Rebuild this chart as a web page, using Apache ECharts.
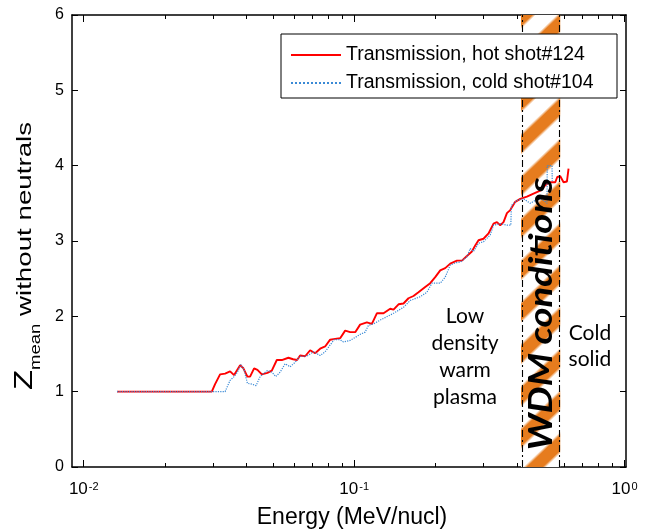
<!DOCTYPE html>
<html><head><meta charset="utf-8">
<script src="https://cdn.jsdelivr.net/npm/echarts@6/dist/echarts.min.js"></script>
<style>html,body{margin:0;padding:0;background:#fff}#c{width:657px;height:529px}</style>
</head><body><div id="c"></div>
<script>
// ---------- data (energy in MeV/nucl, Z_mean) ----------
const hotEnergy = [0.01328,0.02976,0.03060,0.03193,0.03332,0.03477,0.03598,0.03787,0.03895,0.04030,0.04122,0.04266,0.04389,0.04556,0.04778,0.04960,0.05176,0.05401,0.05713,0.05946,0.06152,0.06312,0.06587,0.06874,0.07173,0.07485,0.07811,0.08151,0.08506,0.08876,0.09262,0.09665,0.1009,0.1052,0.1114,0.1163,0.1213,0.1284,0.1359,0.1398,0.1459,0.1522,0.1588,0.1657,0.1729,0.1831,0.1911,0.1994,0.2081,0.2171,0.2266,0.2399,0.2503,0.2612,0.2725,0.2803,0.2883,0.3008,0.3139,0.3276,0.3372,0.3468,0.3567,0.3672,0.3777,0.3941,0.4113,0.4354,0.4605,0.4876,0.5088,0.5310,0.5542,0.5636,0.5783,0.5947,0.6121,0.6205];
const hotZ = [1.00,1.00,1.10,1.23,1.24,1.27,1.22,1.35,1.31,1.20,1.20,1.31,1.29,1.23,1.25,1.28,1.42,1.42,1.45,1.43,1.42,1.48,1.47,1.55,1.51,1.57,1.60,1.69,1.70,1.71,1.81,1.79,1.79,1.89,1.92,1.90,2.04,2.04,2.10,2.09,2.16,2.17,2.24,2.27,2.32,2.39,2.44,2.52,2.61,2.64,2.70,2.74,2.74,2.80,2.86,2.94,3.01,3.03,3.10,3.23,3.25,3.21,3.25,3.37,3.41,3.52,3.56,3.59,3.63,3.67,3.74,3.78,3.78,3.85,3.86,3.78,3.79,3.96];
const coldEnergy = [0.01328,0.03332,0.03477,0.03598,0.03701,0.03809,0.03917,0.04030,0.04182,0.04339,0.04489,0.04618,0.04778,0.04960,0.05132,0.05324,0.05556,0.05797,0.06049,0.06312,0.06683,0.07069,0.07485,0.07811,0.08151,0.08433,0.08876,0.09129,0.09665,0.1009,0.1052,0.1098,0.1129,0.1179,0.1248,0.1398,0.1522,0.1611,0.1754,0.1858,0.1939,0.2081,0.2171,0.2266,0.2364,0.2467,0.2612,0.2686,0.2763,0.2883,0.3008,0.3184,0.3276,0.3468,0.3672,0.3796,0.3813,0.3999,0.4229,0.4477,0.4677,0.4876,0.5018,0.5164,0.5176,0.5391,0.5401];
const coldZ = [1.00,1.00,1.15,1.20,1.26,1.36,1.29,1.11,1.10,1.08,1.20,1.24,1.28,1.26,1.20,1.26,1.37,1.33,1.39,1.47,1.47,1.53,1.48,1.53,1.62,1.69,1.69,1.66,1.68,1.72,1.76,1.79,1.88,1.90,1.95,2.04,2.12,2.21,2.26,2.32,2.44,2.44,2.52,2.68,2.71,2.72,2.79,2.90,2.86,2.97,2.99,3.08,3.21,3.23,3.21,3.21,3.47,3.54,3.56,3.50,3.54,3.56,3.54,3.50,4.00,4.00,3.78];
const wdmBand = [0.414, 0.578];
const xMajorEnergy = [0.01, 0.1, 1];
const xMinorEnergy = [0.02,0.03,0.04,0.05,0.06,0.07,0.08,0.09,0.2,0.3,0.4,0.5,0.6,0.7,0.8,0.9];
const yTicks = [0,1,2,3,4,5,6];
const seriesNames = ['Transmission, hot shot#124','Transmission, cold shot#104'];

const XMIN = Math.log10(0.00905), XMAX = Math.log10(1.012);
const lg = Math.log10;
const toPairs = (E, Z) => E.map((e, i) => [lg(e), Z[i]]);
const majorLog = xMajorEnergy.map(lg);
const minorLog = xMinorEnergy.map(lg);

function makeHatch() {
  const W = 44, H = 42;
  const c = document.createElement('canvas'); c.width = W; c.height = H;
  const ctx = c.getContext('2d'); const img = ctx.createImageData(W, H);
  const o = [230, 124, 30];
  for (let y = 0; y < H; y++) for (let x = 0; x < W; x++) {
    const t = (x / W + y / H) % 1;
    const d = Math.abs(((t - 0.25 + 1.5) % 1) - 0.5);
    let a = (0.22 - d) / 0.09 + 0.5; a = Math.max(0, Math.min(1, a));
    const k = (y * W + x) * 4;
    for (let j = 0; j < 3; j++) img.data[k + j] = Math.round(255 * (1 - a) + o[j] * a);
    img.data[k + 3] = 255;
  }
  ctx.putImageData(img, 0, 0);
  return c;
}

const axisFont = 'Liberation Sans';
const black = '#000';
function xAxisDef(pos, major, withLabel) {
  return {
    type: 'value', min: XMIN, max: XMAX, position: pos,
    axisLine: { show: major, onZero: false, lineStyle: { color: black, width: 1.5 } },
    axisTick: { show: true, inside: true, length: major ? 7 : 4, customValues: major ? majorLog : minorLog,
      lineStyle: { color: black, width: 1 } },
    axisLabel: withLabel ? {
      show: true, customValues: majorLog, margin: 14,
      formatter: v => '{b|10}{s|' + Math.round(v) + '}',
      rich: {
        b: { fontSize: 17, fontFamily: axisFont, color: black, lineHeight: 18, verticalAlign: 'top' },
        s: { fontSize: 11, fontFamily: axisFont, color: black, lineHeight: 11, verticalAlign: 'top', padding: [0, 0, 0, 1] }
      }
    } : { show: false },
    splitLine: { show: false }
  };
}
function yAxisDef(pos, withLabel) {
  return {
    type: 'value', min: 0, max: 6, interval: 1, position: pos,
    axisLine: { show: true, onZero: false, lineStyle: { color: black, width: 1.5 } },
    axisTick: { show: true, inside: true, length: 6, lineStyle: { color: black, width: 1 } },
    axisLabel: withLabel ? { show: true, margin: 8, fontSize: 16, fontFamily: axisFont, color: black } : { show: false },
    splitLine: { show: false }
  };
}

const chart = echarts.init(document.getElementById('c'), null, { renderer: 'canvas' });
chart.setOption({
  animation: false,
  backgroundColor: '#fff',
  grid: { left: 72, right: 31, top: 15, bottom: 62, containLabel: false },
  xAxis: [xAxisDef('bottom', true, true), xAxisDef('bottom', false, false), xAxisDef('top', true, false), xAxisDef('top', false, false)],
  yAxis: [yAxisDef('left', true), yAxisDef('right', false)],
  legend: {
    data: seriesNames, orient: 'vertical', left: 290, top: 45, padding: 0,
    itemWidth: 50, itemHeight: 14, itemGap: 8, z: 20,
    itemStyle: { opacity: 0 },
    textStyle: { fontSize: 19.5, fontFamily: axisFont, color: black, lineHeight: 20 }
  },
  series: [
    {
      name: 'band', type: 'line', data: [], z: 1, silent: true,
      markArea: {
        silent: true,
        itemStyle: { color: { image: makeHatch(), repeat: 'repeat' }, opacity: 1 },
        data: [[{ xAxis: lg(wdmBand[0]) }, { xAxis: lg(wdmBand[1]) }]]
      },
      markLine: {
        silent: true, symbol: 'none', label: { show: false },
        lineStyle: { color: black, width: 1.1, type: [7, 3, 2, 3] },
        data: [{ xAxis: lg(wdmBand[0]) }, { xAxis: lg(wdmBand[1]) }]
      }
    },
    {
      name: seriesNames[0], type: 'line', data: toPairs(hotEnergy, hotZ), symbol: 'none', z: 3,
      lineStyle: { color: '#ff0000', width: 1.9 }, itemStyle: { color: '#ff0000' }
    },
    {
      name: seriesNames[1], type: 'line', data: toPairs(coldEnergy, coldZ), symbol: 'none', z: 4,
      lineStyle: { color: '#3a8ad6', width: 1.2, type: 'dotted' }, itemStyle: { color: '#3a8ad6' }
    }
  ],
  graphic: [
    { type: 'rect', z: 15, shape: { x: 281, y: 34, width: 336, height: 64 }, style: { fill: '#fff', stroke: black, lineWidth: 1 } },
    { type: 'text', z: 10, x: 26, y: 256, rotation: Math.PI / 2, scaleX: 1.32,
      style: { text: '{z|Z}{s|mean}{t| without neutrals}', align: 'center', verticalAlign: 'middle',
        rich: {
          z: { fontSize: 25, fontFamily: axisFont, fill: black, lineHeight: 26, verticalAlign: 'top' },
          s: { fontSize: 14, fontFamily: axisFont, fill: black, lineHeight: 14, verticalAlign: 'top', padding: [16, 0, 0, 0] },
          t: { fontSize: 21, fontFamily: axisFont, fill: black, lineHeight: 26, verticalAlign: 'top', padding: [2, 0, 0, 0] }
        } } },
    { type: 'text', z: 10, x: 352, y: 518, style: { text: 'Energy (MeV/nucl)', fontSize: 23, fontFamily: axisFont, fill: black, align: 'center', verticalAlign: 'middle' } },
    { type: 'text', z: 10, x: 541, y: 314, rotation: Math.PI / 2, scaleX: 1.16,
      style: { text: 'WDM conditions', fontSize: 33, fontFamily: 'Lato', fontWeight: 'bold', fontStyle: 'italic', fill: black, align: 'center', verticalAlign: 'middle' } },
    { type: 'text', z: 10, x: 465, y: 357, style: { text: 'Low\ndensity\nwarm\nplasma', fontSize: 21, fontFamily: 'Lato', lineHeight: 27, fill: black, align: 'center', verticalAlign: 'middle' } },
    { type: 'text', z: 10, x: 590, y: 346, style: { text: 'Cold\nsolid', fontSize: 21, fontFamily: 'Lato', lineHeight: 26, fill: black, align: 'center', verticalAlign: 'middle' } }
  ]
});
</script></body></html>
